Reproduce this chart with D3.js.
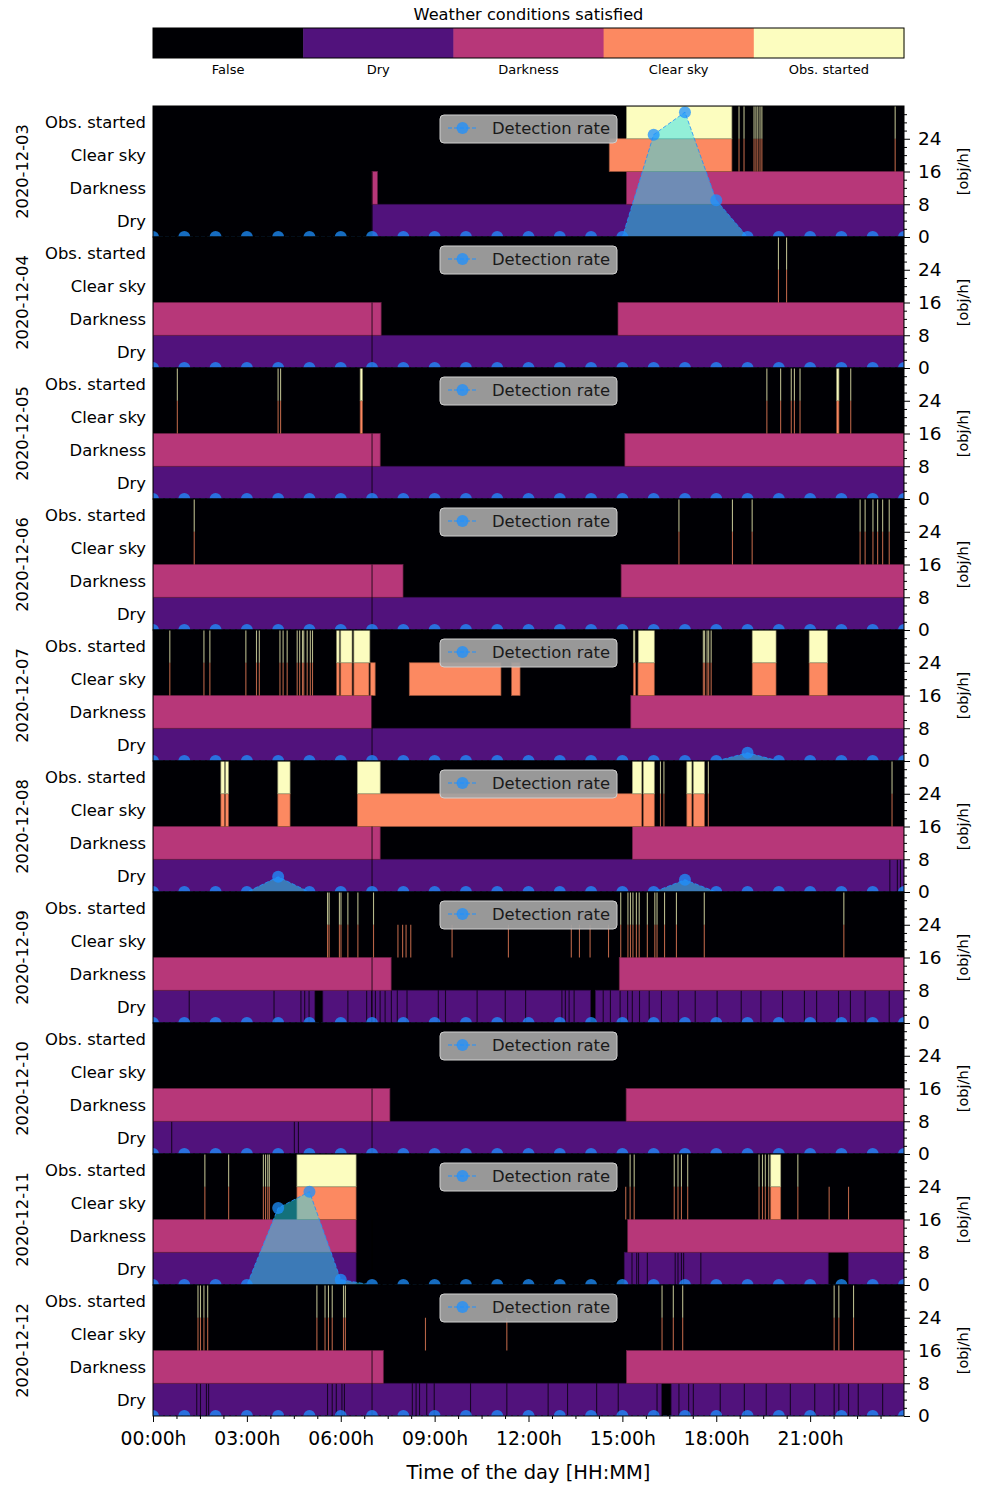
<!DOCTYPE html>
<html>
<head>
<meta charset="utf-8">
<script src="https://cdn.jsdelivr.net/npm/d3@7"></script>
<style>
  body { margin: 0; background: #fff; }
  text { font-family: "DejaVu Sans", sans-serif; fill: #000; }
</style>
</head>
<body>
<div id="chart"></div>
<script>
// ---- data ----
const dates = ['2020-12-03', '2020-12-04', '2020-12-05', '2020-12-06', '2020-12-07',
               '2020-12-08', '2020-12-09', '2020-12-10', '2020-12-11', '2020-12-12'];
const rowNames = ['Dry', 'Darkness', 'Clear sky', 'Obs. started'];          // bottom -> top
const legendNames = ['False', 'Dry', 'Darkness', 'Clear sky', 'Obs. started'];
const hourTicks = [0, 3, 6, 9, 12, 15, 18, 21];
const rateTicks = [0, 8, 16, 24];
const rateHours = [0, 1, 2, 3, 4, 5, 6, 7, 8, 9, 10, 11, 12, 13, 14, 15, 16, 17, 18, 19, 20, 21, 22, 23, 24];
const dataGapHour = 7;      // one-minute hole in every day's record
const blipHours = 0.035;    // length of the short flickers

// detection rate [obj/h], one value per hour
const detectionRates = [
  [0,0,0,0,0,0,0,0,0,0,0,0,0,0,0,0,25,30.5,9,0,0,0,0,0,0],
  [0,0,0,0,0,0,0,0,0,0,0,0,0,0,0,0,0,0,0,0,0,0,0,0,0],
  [0,0,0,0,0,0,0,0,0,0,0,0,0,0,0,0,0,0,0,0,0,0,0,0,0],
  [0,0,0,0,0,0,0,0,0,0,0,0,0,0,0,0,0,0,0,0,0,0,0,0,0],
  [0,0,0,0,0,0,0,0,0,0,0,0,0,0,0,0,0,0,0,2,0,0,0,0,0],
  [0,0,0,0,3.7,0,0,0,0,0,0,0,0,0,0,0,0,3,0,0,0,0,0,0,0],
  [0,0,0,0,0,0,0,0,0,0,0,0,0,0,0,0,0,0,0,0,0,0,0,0,0],
  [0,0,0,0,0,0,0,0,0,0,0,0,0,0,0,0,0,0,0,0,0,0,0,0,0],
  [0,0,0,0,18.8,22.8,1.3,0,0,0,0,0,0,0,0,0,0,0,0,0,0,0,0,0,0],
  [0,0,0,0,0,0,0,0,0,0,0,0,0,0,0,0,0,0,0,0,0,0,0,0,0]
];

// [start, end] hours when each condition holds
const dryIntervals = [
  [[7.0, 24]],
  [[0, 24]],
  [[0, 24]],
  [[0, 24]],
  [[0, 24]],
  [[0, 24]],
  [[0, 5.17], [5.43, 13.98], [14.14, 24]],
  [[0, 24]],
  [[0, 6.49], [15.06, 21.58], [22.22, 24]],
  [[0, 16.25], [16.56, 24]]
];
// short moments where Dry was not satisfied
const dryDropouts = [
  [], [], [], [], [],
  [23.53, 23.77, 23.87],
  [1.14, 3.85, 4.71, 4.83, 4.97, 6.21, 6.81, 6.97, 7.09, 7.24, 7.4, 7.6, 7.79, 8.1, 9.1, 9.33, 10.34, 11.24,
   11.89, 13.05, 13.16, 13.28, 13.44, 14.37, 14.6, 14.91, 15.15, 15.3, 15.53, 15.84, 16.23, 16.77, 17.31,
   18.01, 18.78, 19.41, 20.1, 20.8, 21.19, 21.89, 22.27, 22.74, 23.51],
  [0.58, 4.5, 4.63],
  [15.29, 15.44, 15.5, 15.78, 16.67, 16.76, 16.87, 16.94, 17.49],
  [1.38, 1.5, 1.69, 1.76, 5.56, 5.71, 5.84, 6.02, 6.1, 8.27, 8.39, 8.5, 8.73, 8.97, 10.13, 11.29, 12.61,
   13.23, 14.16, 14.85, 16.09, 16.79, 17.1, 17.25, 18.11, 18.88, 19.58, 20.35, 21.13, 21.75, 21.9, 22.21,
   22.52, 23.3]
];
const darkIntervals = [
  [[7.0, 7.17], [15.13, 24]],
  [[0, 7.29], [14.86, 24]],
  [[0, 7.26], [15.08, 24]],
  [[0, 7.99], [14.96, 24]],
  [[0, 6.99], [15.27, 24]],
  [[0, 7.26], [15.32, 24]],
  [[0, 7.61], [14.9, 24]],
  [[0, 7.57], [15.12, 24]],
  [[0, 6.49], [15.17, 24]],
  [[0, 7.36], [15.13, 24]]
];
const clearIntervals = [
  [[14.58, 18.5]],
  [],
  [[6.62, 6.69], [21.85, 21.92]],
  [],
  [[5.87, 5.95], [6.0, 6.36], [6.42, 6.9], [6.95, 7.1], [8.19, 11.12], [11.46, 11.73],
   [15.35, 15.42], [15.5, 16.02], [19.15, 19.91], [20.97, 21.55]],
  [[2.17, 2.28], [2.32, 2.41], [3.99, 4.38], [6.53, 15.62], [15.67, 16.02], [17.06, 17.22], [17.27, 17.62]],
  [],
  [],
  [[4.6, 6.49], [19.74, 20.06]],
  []
];
const obsIntervals = [
  [[15.13, 18.5]],
  [],
  [[6.62, 6.69], [21.85, 21.92]],
  [],
  [[5.87, 5.95], [6.0, 6.36], [6.42, 6.93], [15.35, 15.4], [15.51, 16.02], [19.15, 19.91], [20.97, 21.55]],
  [[2.17, 2.28], [2.32, 2.41], [3.99, 4.38], [6.53, 7.26], [15.32, 15.62], [15.67, 16.02], [17.06, 17.22], [17.27, 17.62]],
  [],
  [],
  [[4.6, 6.49], [19.74, 20.06]],
  []
];
// brief flickers: observation started (and sky clear)
const obsBlips = [
  [18.71, 18.87, 19.19, 19.25, 19.31, 19.38, 19.44, 23.7],
  [19.97, 20.23],
  [0.76, 3.98, 4.06, 19.6, 20.04, 20.38, 20.48, 20.66, 22.28],
  [1.3, 16.79, 18.5, 19.13, 22.58, 22.74, 22.99, 23.14, 23.3, 23.51],
  [0.52, 1.61, 1.8, 2.95, 3.29, 3.38, 4.04, 4.14, 4.27, 4.59, 4.67, 4.76, 4.8, 4.91, 5.01, 5.08,
   17.57, 17.61, 17.69, 17.74, 17.82],
  [16.2, 16.31, 17.73, 23.6],
  [5.56, 5.61, 5.94, 5.99, 6.21, 6.53, 7.03, 14.93, 15.16, 15.24, 15.32, 15.43, 15.52, 15.78, 16.02,
   16.09, 16.33, 16.71, 17.6, 22.06],
  [],
  [1.64, 2.4, 3.51, 3.58, 3.65, 3.7, 15.23, 15.36, 16.64, 16.76, 16.87, 17.07, 19.35, 19.46, 19.55, 19.66, 20.59],
  [1.42, 1.5, 1.61, 1.73, 5.22, 5.48, 5.59, 5.71, 6.07, 6.13, 16.25, 16.61, 16.91, 21.75, 21.9, 22.37]
];
// brief flickers: clear sky only
const clearBlips = [
  [], [], [], [], [], [],
  [7.81, 7.96, 8.07, 8.22, 9.54, 11.34, 13.35, 13.61, 13.95, 14.54],
  [],
  [15.09, 21.59, 22.21],
  [8.69, 11.29]
];

// ---- layout ----
const W = 984, H = 1485;
const left = 153, right = 904, top0 = 106, panelH = 131;

const svg = d3.select('#chart').append('svg')
    .attr('width', W)
    .attr('height', H);

const x = d3.scaleLinear().domain([0, 24]).range([left, right]);
const colors = legendNames.map((d, i) => d3.interpolateMagma(i / (legendNames.length - 1)));
const falseColor = colors[0];

// colour bar
svg.append('text')
    .attr('x', (left + right) / 2).attr('y', 20)
    .attr('text-anchor', 'middle')
    .style('font-size', '16.2px')
    .text('Weather conditions satisfied');

const cb = d3.scaleBand().domain(legendNames).range([left, right]);
svg.append('g').selectAll('rect')
    .data(legendNames)
    .enter()
    .append('rect')
    .attr('x', d => cb(d))
    .attr('y', 28)
    .attr('width', cb.bandwidth() + 0.5)
    .attr('height', 30)
    .attr('fill', (d, i) => colors[i]);
svg.append('rect')
    .attr('x', left).attr('y', 28).attr('width', right - left).attr('height', 30)
    .attr('fill', 'none').attr('stroke', '#000').attr('stroke-width', 1);
svg.append('g').selectAll('text')
    .data(legendNames)
    .enter()
    .append('text')
    .attr('x', d => cb(d) + cb.bandwidth() / 2)
    .attr('y', 74)
    .attr('text-anchor', 'middle')
    .style('font-size', '13px')
    .text(d => d);

// one panel per day
const y = d3.scaleLinear().domain([0, 32]).range([panelH, 0]);
const rowBand = d3.scaleBand().domain(rowNames).range([panelH, 0]);

dates.forEach((date, i) => {
    let g = svg.append('g').attr('transform', `translate(0,${top0 + i * panelH})`);

    let clipId = 'clip' + i;
    g.append('clipPath').attr('id', clipId)
        .append('rect')
        .attr('x', left).attr('y', 0).attr('width', right - left).attr('height', panelH);

    let plot = g.append('g').attr('clip-path', `url(#${clipId})`);

    plot.append('rect')
        .attr('x', left).attr('y', 0).attr('width', right - left).attr('height', panelH)
        .attr('fill', falseColor);

    // spans for every row (long ones, then brief flickers drawn dimmer)
    let toSpans = (arr) => arr.map(t => [t, t + blipHours]);
    let rows = [
        { name: 'Dry', color: colors[1], spans: dryIntervals[i], brief: false },
        { name: 'Dry', color: falseColor, spans: toSpans(dryDropouts[i]), brief: true },
        { name: 'Darkness', color: colors[2], spans: darkIntervals[i], brief: false },
        { name: 'Clear sky', color: colors[3], spans: clearIntervals[i], brief: false },
        { name: 'Clear sky', color: colors[3], spans: toSpans(obsBlips[i].concat(clearBlips[i])), brief: true },
        { name: 'Obs. started', color: colors[4], spans: obsIntervals[i], brief: false },
        { name: 'Obs. started', color: colors[4], spans: toSpans(obsBlips[i]), brief: true }
    ];
    rows.forEach(r => {
        plot.append('g').selectAll('rect')
            .data(r.spans)
            .enter()
            .append('rect')
            .attr('x', d => x(d[0]))
            .attr('y', rowBand(r.name))
            .attr('width', d => Math.max(x(d[1]) - x(d[0]), 0.8))
            .attr('height', rowBand.bandwidth())
            .attr('fill', r.color)
            .attr('opacity', r.brief ? 0.72 : 1)
            .attr('stroke', d3.color(r.color).darker(1.4))
            .attr('stroke-width', (r.color === falseColor || r.brief) ? 0 : 0.7);
    });

    // data hole
    plot.append('line')
        .attr('x1', x(dataGapHour)).attr('x2', x(dataGapHour))
        .attr('y1', rowBand('Darkness')).attr('y2', panelH)
        .attr('stroke', '#000').attr('stroke-width', 1).attr('opacity', 0.75);

    // detection rate
    let pts = rateHours.map((h, k) => [h, detectionRates[i][k]]);
    let area = d3.area().x(d => x(d[0])).y0(y(0)).y1(d => y(d[1]));
    let line = d3.line().x(d => x(d[0])).y(d => y(d[1]));
    plot.append('path')
        .attr('d', area(pts))
        .attr('fill', 'rgb(40,226,242)')
        .attr('fill-opacity', 0.5);
    plot.append('path')
        .attr('d', line(pts))
        .attr('fill', 'none')
        .attr('stroke', '#1e90ff')
        .attr('stroke-opacity', 0.8)
        .attr('stroke-width', 1)
        .attr('stroke-dasharray', '4,2');
    plot.append('g').selectAll('circle')
        .data(pts)
        .enter()
        .append('circle')
        .attr('cx', d => x(d[0]))
        .attr('cy', d => y(d[1]))
        .attr('r', 6)
        .attr('fill', '#1e90ff')
        .attr('fill-opacity', 0.75);

    // legend
    let cx = (left + right) / 2;
    let leg = g.append('g').attr('transform', `translate(${cx - 88.5},9)`);
    leg.append('rect')
        .attr('width', 177).attr('height', 28).attr('rx', 4)
        .attr('fill', '#a2a2a2').attr('fill-opacity', 0.94)
        .attr('stroke', '#cfcfcf').attr('stroke-width', 1);
    leg.append('line')
        .attr('x1', 8).attr('x2', 37).attr('y1', 13).attr('y2', 13)
        .attr('stroke', '#1e90ff').attr('stroke-width', 1).attr('stroke-dasharray', '4,2');
    leg.append('circle')
        .attr('cx', 22.5).attr('cy', 13).attr('r', 6)
        .attr('fill', '#1e90ff').attr('fill-opacity', 0.75);
    leg.append('text')
        .attr('x', 52).attr('y', 19)
        .style('font-size', '16.4px')
        .style('fill', '#1a1a1a')
        .text('Detection rate');

    // frame
    g.append('rect')
        .attr('x', left).attr('y', 0).attr('width', right - left).attr('height', panelH)
        .attr('fill', 'none').attr('stroke', '#000').attr('stroke-width', 1);

    // right axis
    let ax = g.append('g').attr('transform', `translate(${right},0)`)
        .call(d3.axisRight(y).tickValues(rateTicks).tickSize(6).tickPadding(8));
    ax.select('.domain').remove();
    ax.selectAll('text').style('font-size', '18.5px');
    let minor = g.append('g').attr('transform', `translate(${right},0)`)
        .call(d3.axisRight(y).tickValues(d3.range(0, 33, 2).filter(v => v % 8 !== 0)).tickSize(3).tickFormat(''));
    minor.select('.domain').remove();

    g.append('text')
        .attr('transform', `translate(968,${panelH / 2}) rotate(-90)`)
        .attr('text-anchor', 'middle')
        .style('font-size', '14.5px')
        .text('[obj/h]');

    // row labels
    g.append('g').selectAll('text')
        .data(rowNames)
        .enter()
        .append('text')
        .attr('x', 146)
        .attr('y', d => rowBand(d) + rowBand.bandwidth() / 2)
        .attr('dy', '0.36em')
        .attr('text-anchor', 'end')
        .style('font-size', '16.4px')
        .text(d => d);

    // date label
    g.append('text')
        .attr('transform', `translate(28,${panelH / 2}) rotate(-90)`)
        .attr('text-anchor', 'middle')
        .style('font-size', '16.3px')
        .text(date);
});

// time axis
const bottom = top0 + dates.length * panelH;
let xa = svg.append('g').attr('transform', `translate(0,${bottom})`)
    .call(d3.axisBottom(x).tickValues(hourTicks).tickSize(6).tickPadding(10)
        .tickFormat(h => d3.format('02d')(h) + ':00h'));
xa.select('.domain').remove();
xa.selectAll('text').style('font-size', '18.8px');
let xm = svg.append('g').attr('transform', `translate(0,${bottom})`)
    .call(d3.axisBottom(x).tickValues(d3.range(0, 24, 0.75).filter(v => v % 3 !== 0)).tickSize(3).tickFormat(''));
xm.select('.domain').remove();

svg.append('text')
    .attr('x', (left + right) / 2).attr('y', 1479)
    .attr('text-anchor', 'middle')
    .style('font-size', '19.5px')
    .text('Time of the day [HH:MM]');
</script>
</body>
</html>
